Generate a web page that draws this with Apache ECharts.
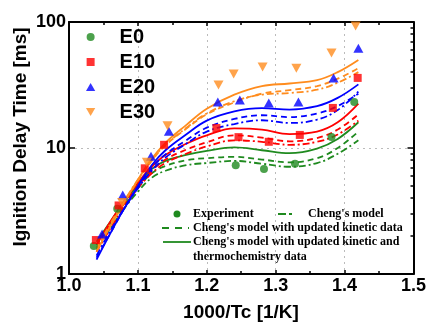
<!DOCTYPE html>
<html>
<head>
<meta charset="utf-8">
<script src="https://cdn.jsdelivr.net/npm/echarts@6/dist/echarts.min.js"></script>
<style>
html, body { margin: 0; padding: 0; background: #fff; }
#chart { width: 429px; height: 329px; }
</style>
</head>
<body>
<div id="chart"></div>
<script>
// experiment points [1000/Tc, ms]
const expE0 = [[1.036, 1.67], [1.07, 3.3], [1.242, 7.3], [1.283, 6.8], [1.328, 7.5], [1.381, 12.2], [1.414, 23.2]];
const expE10 = [[1.039, 1.86], [1.072, 3.5], [1.11, 6.9], [1.138, 10.6], [1.214, 14.4], [1.246, 12.2], [1.29, 11.2], [1.335, 12.7], [1.383, 20.8], [1.419, 36]];
const expE20 = [[1.048, 2.08], [1.078, 4.24], [1.119, 8.6], [1.145, 13.6], [1.216, 23.2], [1.248, 24], [1.29, 22.8], [1.333, 23.2], [1.384, 36], [1.42, 62]];
const expE30 = [[1.077, 3.7], [1.113, 7.7], [1.143, 15], [1.217, 31.6], [1.239, 38.7], [1.281, 44], [1.33, 43], [1.381, 56.8], [1.416, 93]];

// model curves, sampled at modelX
const modelX = [1.04, 1.06, 1.08, 1.10, 1.12, 1.14, 1.17, 1.20, 1.24, 1.28, 1.32, 1.36, 1.39, 1.42];
// solid: updated kinetic + thermo, dashed: updated kinetic, dashdot: Cheng's model
const e0Solid = [1.8, 2.6, 3.7, 5.1, 6.8, 7.9, 8.8, 9.5, 10.1, 9.6, 9.1, 9.9, 11.8, 16];
const e0Dashed = [1.7, 2.5, 3.5, 4.8, 6.3, 7.2, 8.0, 8.3, 8.5, 8.1, 7.7, 8.3, 10.0, 13.5];
const e0DashDot = [1.6, 2.3, 3.3, 4.5, 5.8, 6.6, 7.3, 7.6, 7.9, 7.5, 7.1, 7.6, 9.0, 11.5];
const e10Solid = [1.7, 2.6, 3.8, 5.3, 7.1, 8.8, 10.8, 12.6, 14.3, 14.0, 12.9, 13.5, 16.0, 22.5];
const e10Dashed = [1.6, 2.5, 3.6, 5.0, 6.6, 8.1, 9.7, 11.1, 12.6, 12.1, 11.3, 12.0, 14.0, 18.5];
const e10DashDot = [1.5, 2.3, 3.4, 4.8, 6.3, 7.6, 9.0, 10.3, 11.5, 11.2, 10.6, 11.2, 12.8, 16.5];
const e20Solid = [1.3, 2.1, 3.3, 5.0, 7.3, 9.6, 12.8, 16.5, 19.5, 20.7, 20.2, 21.5, 25.0, 32];
const e20Dashed = [1.35, 2.1, 3.3, 4.9, 6.9, 8.9, 11.5, 14.5, 17.0, 18.2, 17.6, 18.8, 21.5, 27];
const e20DashDot = [1.4, 2.2, 3.3, 4.8, 6.6, 8.4, 10.8, 13.5, 15.5, 16.6, 15.8, 16.8, 20.0, 28];
const e30Solid = [1.5, 2.4, 3.7, 5.6, 8.2, 11.0, 15.2, 20.5, 26.5, 31.0, 32.5, 34.5, 40.0, 50];
const e30Dashed = [1.55, 2.4, 3.7, 5.5, 7.9, 10.5, 14.2, 18.5, 23.0, 27.0, 28.8, 31.0, 35.5, 43];
const e30DashDot = [1.6, 2.5, 3.8, 5.6, 8.0, 10.6, 14.4, 18.8, 23.5, 26.5, 27.3, 29.0, 33.0, 40];

const fuelNames = ["E0", "E10", "E20", "E30"];
const logMinorTicks = [2, 3, 4, 5, 6, 7, 8, 9, 20, 30, 40, 50, 60, 70, 80, 90];

const green = "#1f8a1f";
const red = "#ff0000";
const blue = "#0000ff";
const orange = "#ff8c1e";
const squareSym = "path://M0,0 L10,0 L10,10 L0,10 Z";
const upTriangle = "path://M5,0 L10,8.66 L0,8.66 Z";
const downTriangle = "path://M0,0 L10,0 L5,8.66 Z";

const chart = echarts.init(document.getElementById("chart"));

const pair = ys => modelX.map((x, i) => [x, ys[i]]);

const modelLine = (ys, color, dash) => ({
	type: "line",
	data: pair(ys),
	smooth: 0.4,
	showSymbol: false,
	silent: true,
	z: 2,
	lineStyle: { color, width: 1.8, type: dash }
});

const expScatter = (name, data, color, symbol, size) => ({
	name,
	type: "scatter",
	data,
	symbol,
	symbolSize: size,
	z: 5,
	itemStyle: { color }
});

const dashDot = [7, 3, 2, 3];
const dashed = [6, 4];

const frameAxis = {
	axisLine: { show: true, lineStyle: { color: "#000", width: 2 } },
	axisLabel: { show: false },
	splitLine: { show: false }
};

const option = {
	animation: false,
	grid: { left: 69, right: 15, top: 22, bottom: 55 },
	legend: {
		data: fuelNames,
		orient: "vertical",
		left: 81,
		top: 22,
		itemWidth: 48,
		itemHeight: 8,
		itemGap: 5,
		textStyle: { fontFamily: "Liberation Sans, Arial", fontWeight: "bold", fontSize: 20, color: "#000" }
	},
	xAxis: [
		{
			type: "value",
			min: 1.0,
			max: 1.5,
			interval: 0.1,
			axisLine: { lineStyle: { color: "#000", width: 2 } },
			axisTick: { inside: true, length: 4, lineStyle: { color: "#000", width: 1.5 } },
			minorTick: { show: true, splitNumber: 2, length: 3, lineStyle: { color: "#000", width: 1.5 } },
			axisLabel: {
				color: "#000",
				fontFamily: "Liberation Sans, Arial",
				fontWeight: "bold",
				fontSize: 18,
				margin: 3,
				formatter: v => v.toFixed(1)
			},
			splitLine: { show: true, lineStyle: { color: "#bbbbbb", type: [2, 4], width: 1 } }
		},
		{
			type: "value",
			position: "top",
			min: 1.0,
			max: 1.5,
			interval: 0.1,
			...frameAxis,
			axisTick: { inside: true, length: 4, lineStyle: { color: "#000", width: 1.5 } },
			minorTick: { show: true, splitNumber: 2, length: 3, lineStyle: { color: "#000", width: 1.5 } }
		}
	],
	yAxis: [
		{
			type: "log",
			min: 1,
			max: 100,
			axisLine: { show: true, lineStyle: { color: "#000", width: 2 } },
			axisTick: { inside: true, length: 6, lineStyle: { color: "#000", width: 1.5 } },
			axisLabel: {
				color: "#000",
				fontFamily: "Liberation Sans, Arial",
				fontWeight: "bold",
				fontSize: 18,
				margin: 3
			},
			splitLine: { show: true, lineStyle: { color: "#bbbbbb", type: [2, 4], width: 1 } }
		},
		{
			type: "log",
			min: 1,
			max: 100,
			axisLine: { show: false },
			axisLabel: { show: false },
			splitLine: { show: false },
			axisTick: { inside: true, length: 3, customValues: logMinorTicks, lineStyle: { color: "#000", width: 1.5 } }
		},
		{
			type: "log",
			position: "right",
			min: 1,
			max: 100,
			...frameAxis,
			axisTick: { inside: true, length: 6, lineStyle: { color: "#000", width: 1.5 } }
		},
		{
			type: "log",
			position: "right",
			min: 1,
			max: 100,
			axisLine: { show: false },
			axisLabel: { show: false },
			splitLine: { show: false },
			axisTick: { inside: true, length: 3, customValues: logMinorTicks, lineStyle: { color: "#000", width: 1.5 } }
		}
	],
	graphic: [
		{
			type: "text",
			rotation: Math.PI / 2,
			x: 21,
			y: 137,
			style: {
				text: "Ignition Delay Time [ms]",
				font: "bold 19px 'Liberation Sans', Arial",
				fill: "#000",
				align: "center",
				verticalAlign: "middle"
			}
		},
		{
			type: "text",
			x: 241,
			y: 313,
			style: {
				text: "1000/Tc [1/K]",
				font: "bold 19px 'Liberation Sans', Arial",
				fill: "#000",
				align: "center",
				verticalAlign: "middle"
			}
		},
		{ type: "circle", shape: { cx: 177, cy: 214, r: 3.5 }, style: { fill: green } },
		{ type: "line", shape: { x1: 278, y1: 214, x2: 295, y2: 214 }, style: { stroke: green, lineWidth: 1.8, lineDash: [8, 3, 3, 3] } },
		{ type: "line", shape: { x1: 162, y1: 228, x2: 189, y2: 228 }, style: { stroke: green, lineWidth: 1.8, lineDash: [7, 6] } },
		{ type: "line", shape: { x1: 163, y1: 242, x2: 191, y2: 242 }, style: { stroke: green, lineWidth: 1.8 } },
		...[
			["Experiment", 193, 214],
			["Cheng's model", 308, 214],
			["Cheng's model with updated kinetic data", 193, 228],
			["Cheng's model with updated kinetic and", 193, 242],
			["thermochemistry data", 193, 257]
		].map(([text, x, y]) => ({
			type: "text",
			x,
			y,
			style: {
				text,
				font: "bold 12px 'Liberation Serif', 'Times New Roman'",
				fill: "#000",
				verticalAlign: "middle"
			}
		}))
	],
	series: [
		modelLine(e0DashDot, green, dashDot),
		modelLine(e0Dashed, green, dashed),
		modelLine(e0Solid, green, "solid"),
		modelLine(e10DashDot, red, dashDot),
		modelLine(e10Dashed, red, dashed),
		modelLine(e10Solid, red, "solid"),
		modelLine(e20DashDot, blue, dashDot),
		modelLine(e20Dashed, blue, dashed),
		modelLine(e20Solid, blue, "solid"),
		modelLine(e30DashDot, orange, dashDot),
		modelLine(e30Dashed, orange, dashed),
		modelLine(e30Solid, orange, "solid"),
		expScatter("E0", expE0, green, "circle", 8),
		expScatter("E10", expE10, red, squareSym, 8),
		expScatter("E20", expE20, blue, upTriangle, [10, 9]),
		expScatter("E30", expE30, orange, downTriangle, [10, 9])
	]
};

chart.setOption(option);
</script>
</body>
</html>
